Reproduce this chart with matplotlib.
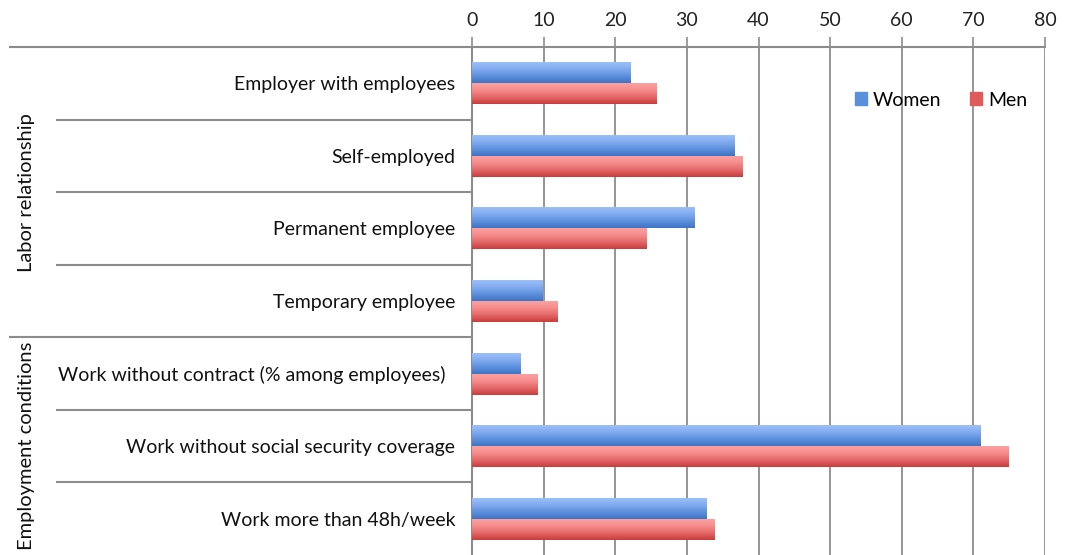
import numpy as np
import matplotlib
matplotlib.use("Agg")
import matplotlib.pyplot as plt
from matplotlib.colors import LinearSegmentedColormap

categories = [
    "Employer with employees",
    "Self-employed",
    "Permanent employee",
    "Temporary employee",
    "Work without contract (% among employees)  ",
    "Work without social security coverage",
    "Work more than 48h/week",
]
women = [22.1, 36.6, 31.0, 9.9, 6.8, 71.0, 32.8]
men = [25.8, 37.7, 24.4, 11.9, 9.1, 74.9, 33.9]
groups = ["Labor relationship", "Employment conditions"]
group_sizes = [4, 3]
xticks = [0, 10, 20, 30, 40, 50, 60, 70, 80]

plt.rcParams['font.family'] = ['Lato', 'DejaVu Sans']
W, H = 1069, 555
fig = plt.figure(figsize=(W / 100, H / 100), dpi=100)
ax = fig.add_axes([472 / W, 0, (1045 - 472) / W, 1 - 47 / H])

grid_c = "#8c8c8c"
n = len(categories)
y = np.arange(n)
bh = 0.29

blue_cmap = LinearSegmentedColormap.from_list("b", ["#9ec2fa", "#84adf0", "#5f92de", "#3e74c6"])
red_cmap = LinearSegmentedColormap.from_list("r", ["#fca4a4", "#f78e8e", "#e56a6a", "#c93c3c"])
grad = np.linspace(0, 1, 64).reshape(-1, 1)

bw = ax.barh(y - bh / 2, women, height=bh, color="none", edgecolor="none", label="Women", zorder=3)
bm = ax.barh(y + bh / 2, men, height=bh, color="none", edgecolor="none", label="Men", zorder=3)
for bars, cmap in ((bw, blue_cmap), (bm, red_cmap)):
    for b in bars:
        x0, y0 = b.get_x(), b.get_y()
        w, h = b.get_width(), b.get_height()
        im = ax.imshow(grad, cmap=cmap, aspect="auto", origin="upper",
                       extent=(x0, x0 + w, y0 + h, y0), zorder=3,
                       interpolation="bilinear")
        im.set_clip_path(b)

ax.set_xlim(0, 80)
ax.set_ylim(n - 0.5, -0.5)
ax.set_xticks(xticks)
ax.xaxis.tick_top()
ax.tick_params(axis="x", length=7, width=1.2, color=grid_c, labelsize=14, pad=6, labelcolor="#222222")
ax.set_yticks(y)
ax.set_yticklabels(categories)
ax.tick_params(axis="y", length=0, labelsize=14, pad=12, labelcolor="#111111")
for t in xticks:
    ax.axvline(t, color=grid_c, lw=1.3, zorder=1)
for s in ["right", "bottom"]:
    ax.spines[s].set_visible(False)
for s in ["top", "left"]:
    ax.spines[s].set_color(grid_c)
    ax.spines[s].set_linewidth(1.5)

trans = ax.get_yaxis_transform()
axw = (1045 - 472)
boundaries = np.cumsum(group_sizes)[:-1]
for i in range(1, n):
    major = i in boundaries
    xl = (10 - 472) / axw if major else (57 - 472) / axw
    ax.plot([xl, 0], [i - 0.5, i - 0.5], transform=trans, color=grid_c, lw=1.5, clip_on=False, zorder=2)
ax.plot([(10 - 472) / axw, 0], [-0.5, -0.5], transform=trans, color=grid_c, lw=1.5, clip_on=False, zorder=2)

start = 0
for g, sz in zip(groups, group_sizes):
    mid = start + sz / 2 - 0.5
    ax.text((27 - 472) / axw, mid, g, transform=trans, rotation=90, ha="center", va="center",
            fontsize=14.5, color="#111111")
    start += sz

ax.legend(loc="center", bbox_to_anchor=((941 - 472) / axw, 1 - (100 - 47) / (H - 47)),
          ncol=2, frameon=False, fontsize=14, handlelength=0.6, handleheight=0.6,
          handletextpad=0.3, columnspacing=1.5,
          handles=[plt.Rectangle((0, 0), 1, 1, color="#5a8fdc"), plt.Rectangle((0, 0), 1, 1, color="#e05a5a")],
          labels=["Women", "Men"])

fig.savefig("out.png", dpi=100)
